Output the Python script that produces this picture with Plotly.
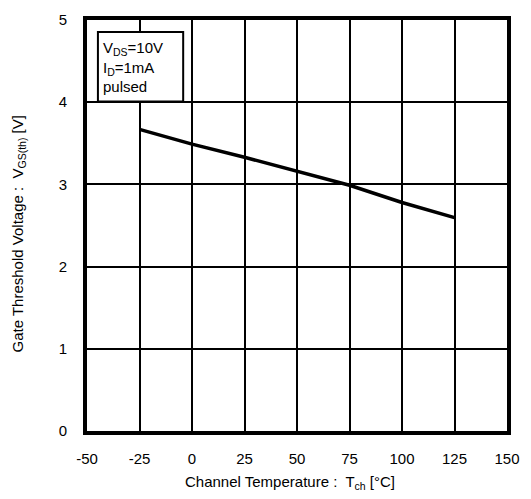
import plotly.graph_objects as go

# Data
temperature = [-25, 0, 25, 50, 75, 100, 125]
vth = [3.67, 3.49, 3.33, 3.16, 2.99, 2.78, 2.595]

x_ticks = [-50, -25, 0, 25, 50, 75, 100, 125, 150]
x_tick_text = ["-50", "-25", "0", "25", "50", "75", "100", "125", "150"]
y_ticks = [0, 1, 2, 3, 4, 5]
y_tick_text = ["0", "1", "2", "3", "4", "5"]

FONT = "Liberation Sans, Arial, sans-serif"

fig = go.Figure()
fig.add_trace(go.Scatter(x=temperature, y=vth, mode="lines",
                         line=dict(color="black", width=3.5), showlegend=False))

axis_common = dict(showline=True, linewidth=4, linecolor="black", mirror=True,
                   showgrid=True, gridcolor="black", gridwidth=2, zeroline=False,
                   ticks="", tickfont=dict(family=FONT, size=15, color="black"))

fig.update_xaxes(range=[-50, 150], tickvals=x_ticks, ticktext=x_tick_text,
                 ticklabelstandoff=11, **axis_common)
fig.update_yaxes(range=[0, 5], tickvals=y_ticks, ticktext=y_tick_text,
                 ticklabelstandoff=13, **axis_common)

fig.add_shape(type="rect", xref="paper", yref="paper", x0=0.026, x1=0.229, y0=0.802, y1=0.971,
              line=dict(color="black", width=2), fillcolor="white", layer="above")

fig.add_annotation(xref="paper", yref="paper", x=0.034, y=0.958, xanchor="left", yanchor="top",
                   align="left", showarrow=False,
                   text="V<sub>DS</sub>=10V<br>I<sub>D</sub>=1mA<br>pulsed",
                   font=dict(family=FONT, size=15, color="black"))

fig.add_annotation(xref="paper", yref="paper", x=0.5, y=0, yanchor="middle", xanchor="center",
                   yshift=-51, xshift=-7, showarrow=False,
                   text="Channel Temperature :  T<sub>ch</sub> [°C]",
                   font=dict(family=FONT, size=15, color="black"))

fig.add_annotation(xref="paper", yref="paper", x=0, y=0.5, xanchor="center", yanchor="middle",
                   xshift=-69, yshift=-9, textangle=-90, showarrow=False,
                   text="Gate Threshold Voltage :  V<sub>GS(th)</sub> [V]",
                   font=dict(family=FONT, size=15, color="black"))

fig.update_layout(width=531, height=499, margin=dict(l=87, r=24, t=11, b=68),
                  plot_bgcolor="white", paper_bgcolor="white")

fig.write_html("out.html")
